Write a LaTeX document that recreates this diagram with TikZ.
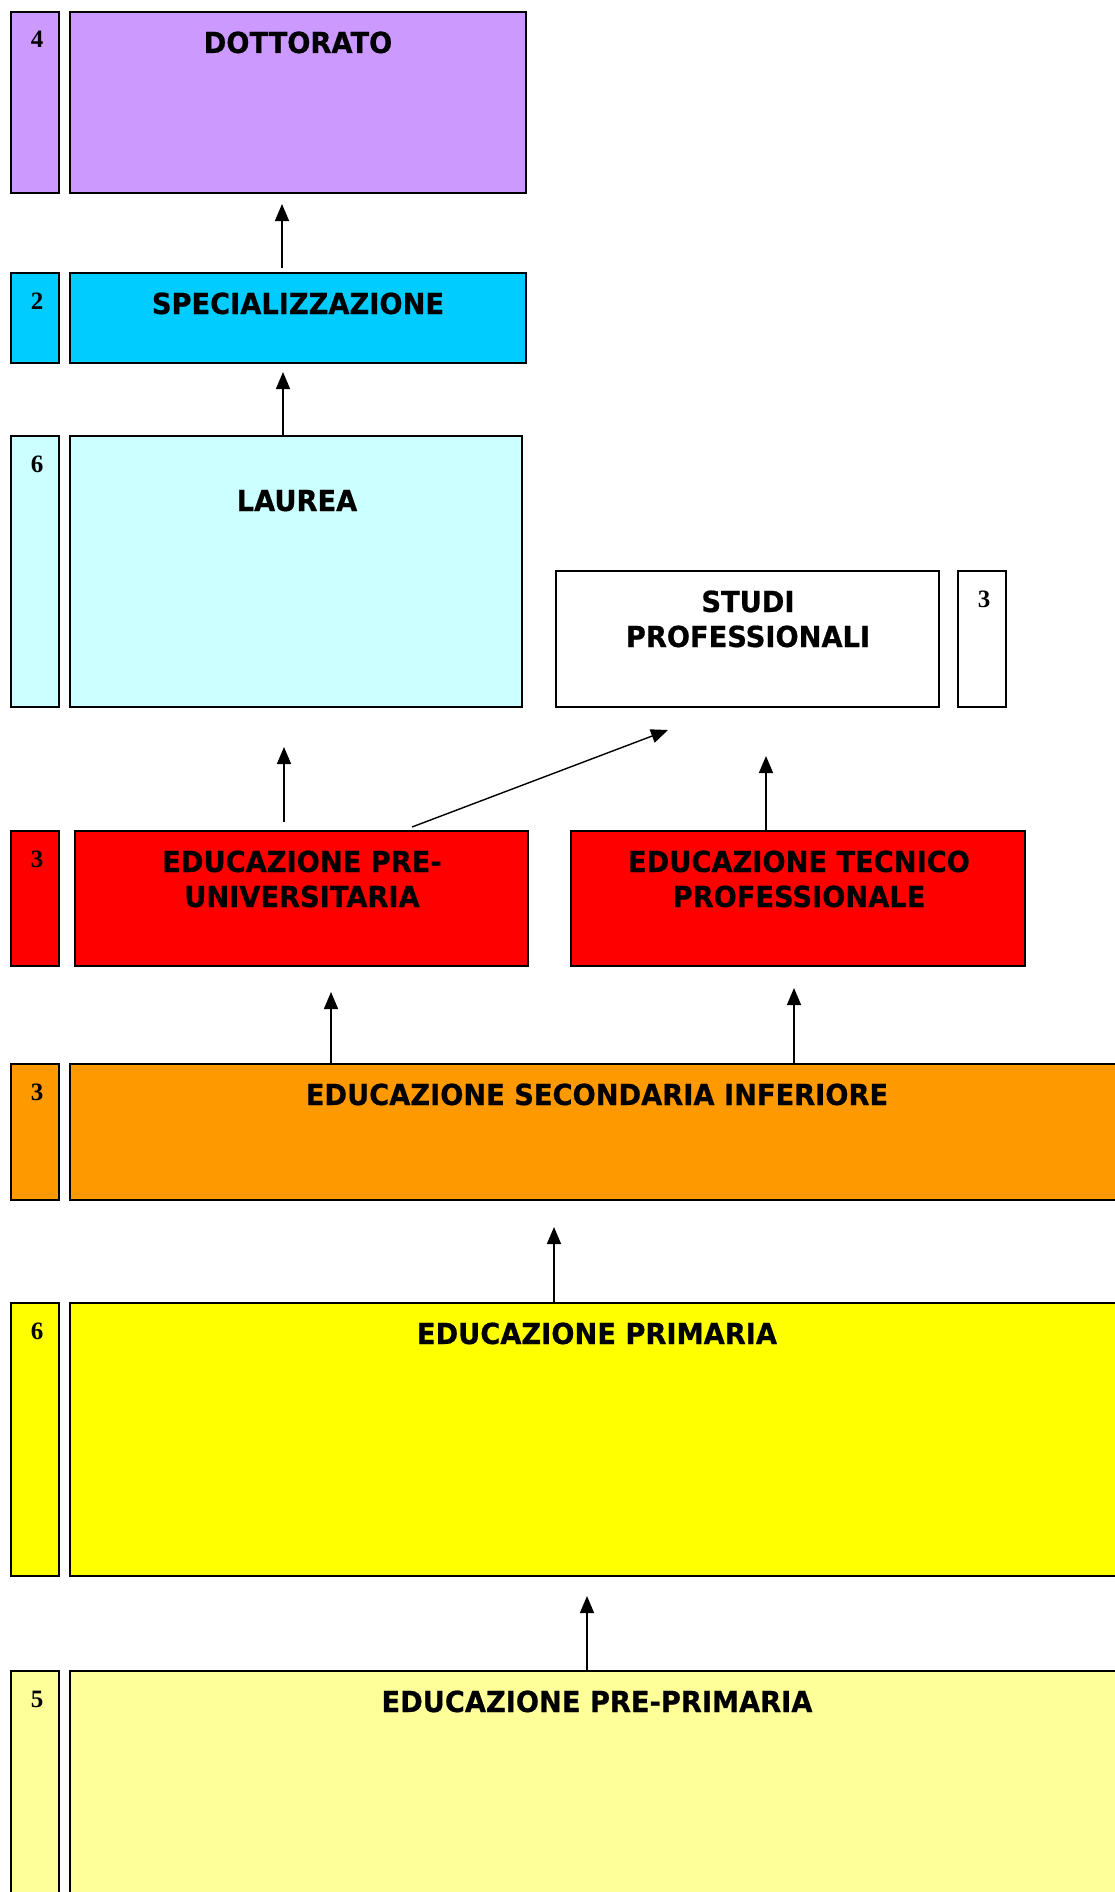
\documentclass[tikz,border=0pt]{standalone}
\usepackage{fontspec}
\usetikzlibrary{arrows.meta}
\newfontfamily\ttlfont[FakeStretch=0.94,FakeBold=0.6]{DejaVu Sans}
\newfontfamily\numfont{Liberation Serif}
\definecolor{cDot}{HTML}{CC99FF}
\definecolor{cSpe}{HTML}{00CCFF}
\definecolor{cLau}{HTML}{CCFFFF}
\definecolor{cRed}{HTML}{FF0000}
\definecolor{cOra}{HTML}{FF9900}
\definecolor{cYel}{HTML}{FFFF00}
\definecolor{cPal}{HTML}{FFFF99}
\tikzset{
  bx/.style={draw=black, line width=1.5pt, rectangle, inner sep=0pt, outer sep=0pt, anchor=north west},
  ttl/.style={anchor=base, inner sep=0pt, align=center, font=\ttlfont\bfseries\fontsize{29}{35}\selectfont},
  num/.style={anchor=base, inner sep=0pt, font=\numfont\bfseries\fontsize{25}{30}\selectfont},
  arr/.style={line width=1.4pt, -{Triangle[width=14pt,length=17pt]}}
}
\begin{document}
\begin{tikzpicture}[x=1pt,y=-1pt]
\useasboundingbox (0,0) rectangle (1115,1892);
% boxes
\node[bx, fill=cDot, minimum width=48pt, minimum height=181pt] (dottN) at (11,12) {};
\node[bx, fill=cDot, minimum width=456pt, minimum height=181pt] (dott) at (70,12) {};
\node[bx, fill=cSpe, minimum width=48pt, minimum height=90pt] (speN) at (11,273) {};
\node[bx, fill=cSpe, minimum width=456pt, minimum height=90pt] (spe) at (70,273) {};
\node[bx, fill=cLau, minimum width=48pt, minimum height=271pt] (lauN) at (11,436) {};
\node[bx, fill=cLau, minimum width=452pt, minimum height=271pt] (lau) at (70,436) {};
\node[bx, fill=white, minimum width=383pt, minimum height=136pt] (stu) at (556,571) {};
\node[bx, fill=white, minimum width=48pt, minimum height=136pt] (stuN) at (958,571) {};
\node[bx, fill=cRed, minimum width=48pt, minimum height=135pt] (preN) at (11,831) {};
\node[bx, fill=cRed, minimum width=453pt, minimum height=135pt] (pre) at (75,831) {};
\node[bx, fill=cRed, minimum width=454pt, minimum height=135pt] (tec) at (571,831) {};
\node[bx, fill=cOra, minimum width=48pt, minimum height=136pt] (secN) at (11,1064) {};
\node[bx, fill=cOra, minimum width=1054pt, minimum height=136pt] (sec) at (70,1064) {};
\node[bx, fill=cYel, minimum width=48pt, minimum height=273pt] (priN) at (11,1303) {};
\node[bx, fill=cYel, minimum width=1054pt, minimum height=273pt] (pri) at (70,1303) {};
\node[bx, fill=cPal, minimum width=48pt, minimum height=240pt] (ppN) at (11,1671) {};
\node[bx, fill=cPal, minimum width=1054pt, minimum height=240pt] (pp) at (70,1671) {};
% titles (base = last line)
\node[ttl] (dottT) at (298,53) {DOTTORATO};
\node[ttl] (speT) at (298,314) {SPECIALIZZAZIONE};
\node[ttl] (lauT) at (297,511) {LAUREA};
\node[ttl] (stuT) at (748,647) {STUDI\\PROFESSIONALI};
\node[ttl] (preT) at (302,907) {EDUCAZIONE PRE-\\UNIVERSITARIA};
\node[ttl] (tecT) at (799,907) {EDUCAZIONE TECNICO\\PROFESSIONALE};
\node[ttl] (secT) at (597,1105) {EDUCAZIONE SECONDARIA INFERIORE};
\node[ttl] (priT) at (597,1344) {EDUCAZIONE PRIMARIA};
\node[ttl] (ppT) at (597,1712) {EDUCAZIONE PRE-PRIMARIA};
% numbers
\node[num] (n1) at (37,48) {4};
\node[num] (n2) at (37,309) {2};
\node[num] (n3) at (37,472) {6};
\node[num] (n4) at (984,607) {3};
\node[num] (n5) at (37,867) {3};
\node[num] (n6) at (37,1100) {3};
\node[num] (n7) at (37,1339) {6};
\node[num] (n8) at (37,1707) {5};
% arrow tips
\coordinate (a1) at (282,204);
\coordinate (a1s) at (282,268);
\coordinate (a2) at (283,372);
\coordinate (a3) at (284,747);
\coordinate (a3s) at (284,822);
\coordinate (a4s) at (412,827);
\coordinate (a4) at (668,730);
\coordinate (a5) at (766,756);
\coordinate (a6) at (331,992);
\coordinate (a7) at (794,988);
\coordinate (a8) at (554,1227);
\coordinate (a9) at (587,1596);
% connectors
\draw[arr] (a1s) -- (a1);
\draw[arr] (lau.north -| a2) -- (a2);
\draw[arr] (a3s) -- (a3);
\draw[arr] (a4s) -- (a4);
\draw[arr] (tec.north -| a5) -- (a5);
\draw[arr] (sec.north -| a6) -- (a6);
\draw[arr] (sec.north -| a7) -- (a7);
\draw[arr] (pri.north -| a8) -- (a8);
\draw[arr] (pp.north -| a9) -- (a9);
\end{tikzpicture}
\end{document}
